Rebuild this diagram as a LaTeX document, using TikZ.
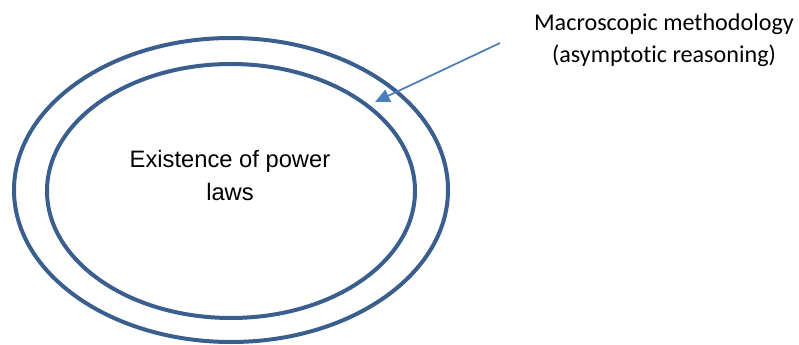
\documentclass[tikz,border=0pt]{standalone}
\usepackage{fontspec}
\usetikzlibrary{shapes.geometric,arrows.meta}
\newfontfamily\notefont[Ligatures=NoCommon]{Carlito}
\newfontfamily\corefont{Liberation Sans}
\definecolor{ringblue}{HTML}{3A5F8E}
\definecolor{arrowblue}{HTML}{4A7EBB}
\begin{document}
\begin{tikzpicture}[x=0.75pt,y=-0.75pt,
  ring/.style={draw=ringblue, line width=3pt, ellipse, inner sep=0pt},
  pointer/.style={draw=arrowblue, line width=1.3pt,
    -{Triangle[length=11pt,width=10pt]}},
  notetext/.style={align=center, font=\notefont\fontsize{18.1}{24}\selectfont},
  coretext/.style={align=center, font=\corefont\fontsize{17.8}{24.75}\selectfont}]
\useasboundingbox (0,0) rectangle (799,345);
% nested rings
\node[ring, minimum width=325.5pt, minimum height=228pt] (outer) at (231,190) {};
\node[ring, minimum width=276pt, minimum height=190.5pt] (inner) at (231,191) {};
% labels
\node[coretext] (core) at (230,176) {Existence of power\\laws};
\node[notetext] (note) at (664,40) {Macroscopic methodology\\(asymptotic reasoning)};
% pointer from the note into the gap between the rings
\coordinate (tail) at (500,43);
\coordinate (tip) at (375,102);
\draw[pointer] (tail) -- (tip);
\end{tikzpicture}
\end{document}
